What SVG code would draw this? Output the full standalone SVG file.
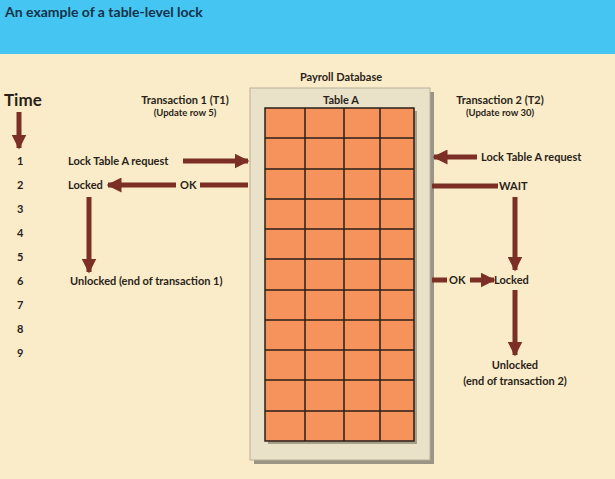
<svg xmlns="http://www.w3.org/2000/svg" width="615" height="479" viewBox="0 0 615 479">
<style>
text{font-family:Lato,"Liberation Sans",sans-serif;font-weight:bold;fill:#2a1f1a;font-size:11px}
.s{font-size:9.5px}
.ln{stroke:#7b2f25;stroke-width:5;fill:none}
.g{stroke:#2a2018;stroke-width:1.5}
</style>
<defs>
<marker id="ah" viewBox="0 0 10 10" refX="9" refY="5" markerWidth="3" markerHeight="3" orient="auto" markerUnits="strokeWidth"><path d="M0,0L10,5L0,10z" fill="#7b2f25"/></marker>
</defs>
<rect width="615" height="479" fill="#faecc8"/>
<rect width="615" height="54" fill="#45c6f2"/>
<text x="5" y="17" style="font-size:14px;fill:#14324a">An example of a table-level lock</text>
<g id="time">
<text x="4" y="106" style="font-size:17px">Time</text>
<line class="ln" x1="19" y1="112" x2="19" y2="148" marker-end="url(#ah)"/>
<text x="17" y="165">1</text><text x="17" y="189">2</text><text x="17" y="213">3</text><text x="17" y="237">4</text><text x="17" y="261">5</text><text x="17" y="285">6</text><text x="17" y="309">7</text><text x="17" y="333">8</text><text x="17" y="357">9</text>
</g>
<g id="db">
<text x="341" y="81" text-anchor="middle">Payroll Database</text>
<rect x="254" y="92" width="180" height="372" fill="#9a9484"/>
<rect x="250" y="88" width="180" height="372" fill="#e9e2c8" stroke="#b8b09a"/>
<text x="341" y="104" text-anchor="middle">Table A</text>
<rect x="268" y="111" width="149" height="333" fill="#a89f8a"/>
<rect x="265" y="108" width="149" height="333" fill="#f6935c" class="g"/>
<path class="g" d="M305,108V441M344,108V441M380,108V441M265,138H414M265,169H414M265,199H414M265,229H414M265,259H414M265,290H414M265,320H414M265,350H414M265,380H414M265,411H414"/>
</g>
<g id="t1">
<text x="185" y="104" text-anchor="middle">Transaction 1 (T1)</text>
<text x="185" y="116" text-anchor="middle" class="s">(Update row 5)</text>
<text x="68" y="165">Lock Table A request</text>
<text x="68" y="189">Locked</text>
<text x="180" y="189">OK</text>
<text x="70" y="285">Unlocked (end of transaction 1)</text>
</g>
<g id="t2">
<text x="500" y="104" text-anchor="middle">Transaction 2 (T2)</text>
<text x="500" y="116" text-anchor="middle" class="s">(Update row 30)</text>
<text x="481" y="161">Lock Table A request</text>
<text x="499" y="190">WAIT</text>
<text x="449" y="284">OK</text>
<text x="494" y="284">Locked</text>
<text x="515" y="369" text-anchor="middle">Unlocked</text>
<text x="515" y="385" text-anchor="middle">(end of transaction 2)</text>
</g>
<g id="connectors">
<line class="ln" x1="183" y1="161" x2="248" y2="161" marker-end="url(#ah)"/>
<line class="ln" x1="248" y1="185" x2="200" y2="185"/>
<line class="ln" x1="176" y1="185" x2="108" y2="185" marker-end="url(#ah)"/>
<line class="ln" x1="89" y1="197" x2="89" y2="272" marker-end="url(#ah)"/>
<line class="ln" x1="477" y1="157" x2="434" y2="157" marker-end="url(#ah)"/>
<line class="ln" x1="432" y1="186" x2="498" y2="186"/>
<line class="ln" x1="515" y1="197" x2="515" y2="270" marker-end="url(#ah)"/>
<line class="ln" x1="432" y1="280" x2="447" y2="280"/>
<line class="ln" x1="470" y1="280" x2="494" y2="280" marker-end="url(#ah)"/>
<line class="ln" x1="515" y1="290" x2="515" y2="355" marker-end="url(#ah)"/>
</g>
</svg>
